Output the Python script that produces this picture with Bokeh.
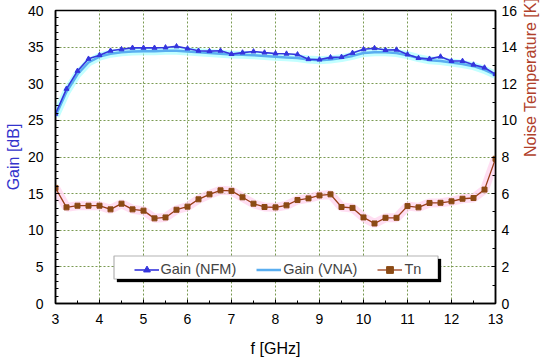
import math
from bokeh.plotting import figure
from bokeh.models import (Range1d, LinearAxis, Legend, LegendItem, BoxAnnotation,
                          SingleIntervalTicker, ColumnDataSource)
from bokeh.embed import file_html
from bokeh.resources import INLINE

# ---- data ----
freq = [3.0, 3.25, 3.5, 3.75, 4.0, 4.25, 4.5, 4.75, 5.0, 5.25, 5.5, 5.75, 6.0, 6.25,
        6.5, 6.75, 7.0, 7.25, 7.5, 7.75, 8.0, 8.25, 8.5, 8.75, 9.0, 9.25, 9.5, 9.75,
        10.0, 10.25, 10.5, 10.75, 11.0, 11.25, 11.5, 11.75, 12.0, 12.25, 12.5, 12.75, 13.0]

gain_nfm = [25.9, 29.3, 31.75, 33.4, 33.9, 34.5, 34.7, 34.9, 34.9, 34.9, 34.95, 35.1,
            34.8, 34.5, 34.45, 34.5, 34.05, 34.25, 34.4, 34.25, 34.13, 34.1, 34.0, 33.35,
            33.3, 33.6, 33.65, 34.2, 34.7, 34.85, 34.6, 34.65, 34.0, 33.5, 33.4, 33.7,
            33.1, 33.1, 32.6, 32.2, 31.3]

gain_vna = [25.6, 28.9, 31.3, 32.9, 33.7, 34.1, 34.3, 34.4, 34.45, 34.45, 34.5, 34.5,
            34.4, 34.3, 34.2, 34.1, 34.0, 33.95, 33.9, 33.8, 33.7, 33.6, 33.5, 33.3,
            33.2, 33.3, 33.5, 33.8, 34.2, 34.3, 34.3, 34.2, 33.9, 33.5, 33.2, 33.1,
            32.9, 32.7, 32.4, 31.9, 31.2]

tn = [6.31, 5.25, 5.34, 5.34, 5.34, 5.14, 5.45, 5.14, 5.07, 4.65, 4.7, 5.12, 5.29,
      5.69, 5.96, 6.18, 6.15, 5.8, 5.45, 5.27, 5.25, 5.36, 5.65, 5.74, 5.9, 5.96,
      5.27, 5.22, 4.7, 4.37, 4.68, 4.68, 5.32, 5.25, 5.49, 5.5, 5.58, 5.72, 5.76,
      6.22, 7.9]

series_names = ["Gain (NFM)", "Gain (VNA)", "Tn"]
axis_titles = ["f [GHz]", "Gain [dB]", "Noise Temperature [K]"]

FONT = "Liberation Sans"
BLUE = "#3535dd"
VNA_C = "#5aaef0"
TN_C = "#9a3d18"
TN_M = "#8b4a14"
GRID = "#7a9a52"

src = ColumnDataSource(dict(f=freq, g1=gain_nfm, g2=gain_vna, tn=tn))

p = figure(width=550, height=361, output_backend="svg", toolbar_location=None,
           x_range=Range1d(3, 13), y_range=Range1d(0, 40),
           min_border_left=55, min_border_right=54, min_border_top=10, min_border_bottom=58)
p.extra_y_ranges = {"tn": Range1d(0, 16)}

p.outline_line_color = "black"
p.outline_line_width = 1.5
p.background_fill_color = "white"
p.border_fill_color = "white"

# grids
p.xgrid.ticker = SingleIntervalTicker(interval=1)
p.ygrid.ticker = SingleIntervalTicker(interval=5)
for g in (p.xgrid, p.ygrid):
    g.grid_line_color = GRID
    g.grid_line_dash = "2 2"
    g.grid_line_width = 1

# axes
xa = p.xaxis[0]
xa.ticker = SingleIntervalTicker(interval=1, num_minor_ticks=2)
ya = p.yaxis[0]
ya.ticker = SingleIntervalTicker(interval=5, num_minor_ticks=5)
ra = LinearAxis(y_range_name="tn", ticker=SingleIntervalTicker(interval=2, num_minor_ticks=2))
p.add_layout(ra, "right")

xa.axis_label = axis_titles[0]
ya.axis_label = axis_titles[1]
ra.axis_label = axis_titles[2]

for ax in (xa, ya, ra):
    ax.axis_line_color = "black"
    ax.axis_line_width = 1.5
    ax.major_tick_in = 4
    ax.major_tick_out = 0
    ax.minor_tick_in = 3
    ax.minor_tick_out = 0
    ax.major_tick_line_color = "black"
    ax.minor_tick_line_color = "black"
    ax.major_label_text_font = FONT
    ax.major_label_text_font_size = "14px"
    ax.major_label_text_color = "black"
    ax.axis_label_text_font = FONT
    ax.axis_label_text_font_size = "16px"
    ax.axis_label_text_font_style = "normal"
xa.major_label_standoff = 10
ya.major_label_standoff = 12
ra.major_label_standoff = 6
xa.axis_label_standoff = 13
ya.axis_label_standoff = 3
ra.axis_label_standoff = 10
xa.axis_label_text_color = "black"
ya.axis_label_text_color = "#3333cc"
ra.axis_label_text_color = "#b0402a"
props = ra.properties()
if "axis_label_orientation" in props:
    ra.axis_label_orientation = math.pi / 2
if "axis_label_background_fill_color" in props:
    ra.axis_label_background_fill_color = "#ffe4f0"

# glyphs
p.line("f", "g2", source=src, line_color="#99ffff", line_width=8, line_alpha=0.6)
r_vna = p.line("f", "g2", source=src, line_color=VNA_C, line_width=2.5)
r_nfm_l = p.line("f", "g1", source=src, line_color=BLUE, line_width=1.6)
r_nfm_m = p.scatter("f", "g1", source=src, marker="triangle", size=5,
                    fill_color=BLUE, line_color=BLUE)
p.line("f", "tn", source=src, y_range_name="tn", line_color="#ffd0ec", line_width=9, line_alpha=0.7)
r_tn_l = p.line("f", "tn", source=src, y_range_name="tn", line_color=TN_C, line_width=1.3)
r_tn_m = p.scatter("f", "tn", source=src, y_range_name="tn", marker="square", size=5,
                   fill_color=TN_M, line_color=TN_M)

# legend frame with shadow
p.add_layout(BoxAnnotation(left=61.5, right=385.5, bottom=21.5, top=44.5,
                           left_units="screen", right_units="screen",
                           bottom_units="screen", top_units="screen",
                           fill_color="black", fill_alpha=1, line_color="black"))
p.add_layout(BoxAnnotation(left=58.5, right=382.5, bottom=24.5, top=47.5,
                           left_units="screen", right_units="screen",
                           bottom_units="screen", top_units="screen",
                           fill_color="white", fill_alpha=1, line_color="black", line_width=1.2))

legend = Legend(items=[LegendItem(label=series_names[0], renderers=[r_nfm_l, r_nfm_m]),
                       LegendItem(label=series_names[1], renderers=[r_vna]),
                       LegendItem(label=series_names[2], renderers=[r_tn_l, r_tn_m])],
                orientation="horizontal", location=(78.5, 25.5), margin=0, padding=2,
                spacing=20, glyph_width=25, glyph_height=17, label_height=17,
                label_standoff=2, label_text_font=FONT, label_text_font_size="14.5px",
                background_fill_alpha=0, border_line_color=None)
p.add_layout(legend, "center")

open("out.html", "w").write(file_html(p, INLINE))
